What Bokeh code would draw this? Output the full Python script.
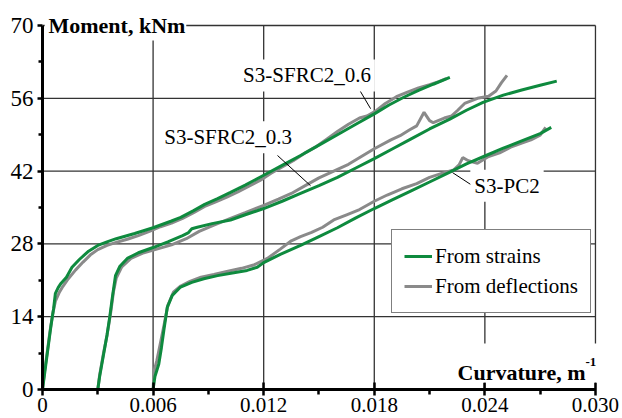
from bokeh.plotting import figure
from bokeh.models import (Range1d, FixedTicker, Label, BoxAnnotation, Legend, LegendItem)
from bokeh.embed import file_html
from bokeh.resources import INLINE

# Curvature values are given in 1e-3 1/m, moments in kNm
sfrc06_strain_k = [0, 0.15, 0.3, 0.45, 0.6, 0.7, 0.85, 1.0, 1.3, 1.6, 2.0, 2.5, 3.0, 3.5, 4.0, 5.0, 6.0, 7.0, 7.5,
                   8.2, 8.8, 9.5, 10.2, 11.0, 12.0, 13.0, 14.0, 15.0, 16.0, 17.0, 18.0, 18.8, 19.6, 20.4, 21.2, 22.1]
sfrc06_strain_m = [0, 4.0, 8.0, 12.0, 15.5, 18.5, 19.6, 20.4, 21.6, 23.5, 25.0, 26.6, 27.7, 28.4, 29.0, 30.0, 31.1,
                   32.4, 33.1, 34.4, 35.6, 36.7, 37.9, 39.3, 41.2, 43.1, 45.0, 47.0, 49.0, 51.0, 53.0, 54.7, 56.2,
                   57.5, 58.7, 60.0]

sfrc06_defl_k = [0, 0.1, 0.25, 0.4, 0.55, 0.7, 0.9, 1.1, 1.4, 1.8, 2.2, 2.6, 3.0, 3.5, 4.0, 4.6, 5.2, 5.8, 6.4, 7.0,
                 7.6, 8.2, 8.8, 9.4, 10.0, 10.6, 11.2, 11.8, 12.4, 13.0, 13.6, 14.2, 14.8, 15.4, 16.0, 16.6, 17.2,
                 17.6, 18.1, 18.6, 19.2, 19.8, 20.4, 21.0, 21.5, 21.9]
sfrc06_defl_m = [0, 3.2, 7.0, 11.0, 14.5, 17.0, 18.6, 19.8, 21.3, 23.0, 24.5, 25.9, 26.9, 27.7, 28.3, 28.9, 29.6,
                 30.4, 31.3, 32.0, 32.9, 34.0, 35.2, 36.1, 37.0, 38.0, 39.1, 40.2, 41.6, 42.8, 44.0, 45.4, 46.6,
                 48.1, 49.6, 51.0, 52.2, 52.6, 53.6, 55.0, 56.3, 57.2, 58.0, 58.6, 59.2, 59.8]

sfrc03_strain_k = [3.0, 3.1, 3.3, 3.5, 3.65, 3.8, 3.96, 4.2, 4.6, 5.2, 6.0, 6.8, 7.6, 7.9, 8.1, 8.4, 9.2, 10.2, 11.0,
                   12.0, 13.0, 14.0, 15.0, 16.0, 17.0, 18.0, 19.0, 20.0, 21.0, 22.1, 23.0, 23.9, 25.0, 26.0, 27.0,
                   27.9]
sfrc03_strain_m = [0, 2.5, 6.5, 10.5, 14.0, 18.0, 21.9, 23.7, 25.2, 26.3, 27.3, 28.4, 29.6, 30.1, 30.9, 31.2, 31.9,
                   32.6, 33.6, 34.8, 36.2, 37.7, 39.2, 40.8, 42.6, 44.4, 46.3, 48.2, 50.1, 52.0, 53.7, 55.2, 56.6,
                   57.6, 58.5, 59.3]

sfrc03_defl_k = [3.0, 3.1, 3.3, 3.5, 3.7, 3.85, 4.0, 4.3, 4.8, 5.5, 6.2, 7.0, 7.8, 8.5, 9.3, 10.2, 11.0, 12.0, 12.8,
                 13.5, 14.3, 15.0, 15.8, 16.6, 17.3, 18.0, 18.9, 19.4, 19.9, 20.3, 20.7, 21.0, 21.2, 21.8, 22.2,
                 22.5, 22.9, 23.6, 24.2, 24.6, 24.9, 25.2]
sfrc03_defl_m = [0, 2.8, 6.8, 10.4, 14.8, 18.8, 21.4, 23.6, 25.2, 26.3, 27.0, 27.8, 29.0, 30.4, 31.6, 32.9, 34.0,
                 35.4, 36.6, 37.7, 39.3, 40.7, 42.0, 43.3, 44.8, 46.3, 48.0, 48.8, 49.9, 50.7, 53.3, 51.7, 51.3,
                 52.2, 52.6, 53.6, 55.0, 56.0, 56.4, 57.4, 59.0, 60.4]

pc2_strain_k = [6.0, 6.1, 6.31, 6.45, 6.58, 6.77, 7.04, 7.49, 8.1, 8.75, 9.5, 10.3, 11.1, 11.65, 12.0, 12.9, 14.0,
                15.0, 16.0, 17.0, 18.0, 19.0, 20.0, 21.0, 22.1, 23.0, 24.0, 25.0, 26.0, 27.0, 27.6]
pc2_strain_m = [0, 2.5, 4.9, 8.0, 11.3, 15.8, 18.1, 19.7, 20.6, 21.3, 21.9, 22.4, 22.9, 23.5, 24.4, 26.0, 27.7,
                29.4, 31.1, 33.0, 34.8, 36.5, 38.2, 39.9, 41.8, 43.4, 44.9, 46.4, 47.8, 49.2, 50.4]

pc2_defl_k = [6.0, 6.05, 6.2, 6.4, 6.6, 6.8, 7.1, 7.5, 8.0, 8.6, 9.3, 10.0, 10.8, 11.5, 12.2, 12.9, 13.5, 14.0,
              14.6, 15.2, 15.8, 16.5, 17.2, 18.0, 18.7, 19.5, 20.3, 21.0, 21.7, 22.3, 22.6, 22.8, 23.1, 23.6,
              24.2, 24.8, 25.4, 26.0, 26.5, 27.0, 27.3]
pc2_defl_m = [0, 3.5, 5.5, 9.0, 12.5, 16.2, 18.7, 19.9, 20.8, 21.6, 22.1, 22.7, 23.3, 24.0, 25.2, 27.0, 28.6, 29.4,
              30.2, 31.2, 32.6, 33.6, 34.6, 36.2, 37.4, 38.6, 39.6, 40.8, 41.6, 42.2, 43.2, 44.6, 44.0, 43.5,
              44.8, 45.5, 46.6, 47.4, 48.0, 48.9, 50.4]

x_ticks = [0, 0.006, 0.012, 0.018, 0.024, 0.030]
x_tick_labels = ["0", "0.006", "0.012", "0.018", "0.024", "0.030"]
x_minor = [0.003, 0.009, 0.015, 0.021, 0.027]
y_ticks = [0, 14, 28, 42, 56, 70]
y_minor = [7, 21, 35, 49, 63]

GREEN = "#0e8a3e"
GRAY = "#8a8a8a"
GRID = "#333333"
SERIF = "Liberation Serif"

X_MAX, Y_MAX = x_ticks[-1], y_ticks[-1]


def kappa(vals):
    return [v / 1000.0 for v in vals]


# the plotting area reaches a little past the axes so titles can overhang the border
p = figure(width=622, height=418, output_backend="svg", toolbar_location=None,
           x_range=Range1d(0, 0.03049), y_range=Range1d(0, 72.88),
           min_border_left=42, min_border_right=18, min_border_top=10, min_border_bottom=29)
p.outline_line_color = None
p.background_fill_color = "white"
p.xgrid.visible = False
p.ygrid.visible = False

# axes
p.xaxis.ticker = FixedTicker(ticks=x_ticks, minor_ticks=x_minor)
p.xaxis.major_label_overrides = dict(zip(x_ticks, x_tick_labels))
p.xaxis.bounds = (0, X_MAX)
p.yaxis.ticker = FixedTicker(ticks=y_ticks, minor_ticks=y_minor)
p.yaxis.bounds = (0, Y_MAX)
for ax in (p.xaxis[0], p.yaxis[0]):
    ax.axis_line_color = "black"
    ax.axis_line_width = 3
    ax.major_tick_line_color = "black"
    ax.minor_tick_line_color = "black"
    ax.major_tick_line_width = 2.5
    ax.minor_tick_line_width = 2.5
    ax.major_label_text_font = SERIF
    ax.major_label_text_color = "black"
p.xaxis.major_tick_in = 7
p.xaxis.major_tick_out = 6
p.xaxis.minor_tick_in = 0
p.xaxis.minor_tick_out = 5
p.xaxis.major_label_text_font_size = "21px"
p.xaxis.major_label_standoff = 2
p.yaxis.major_tick_in = 0
p.yaxis.major_tick_out = 5
p.yaxis.minor_tick_in = 0
p.yaxis.minor_tick_out = 4
p.yaxis.major_label_text_font_size = "23px"
p.yaxis.major_label_standoff = 4

# grid lines, the last ones closing the box at the top and right
p.segment(x0=x_ticks[1:], y0=[0] * 5, x1=x_ticks[1:], y1=[Y_MAX] * 5, line_color=GRID, line_width=1.3)
p.segment(x0=[0] * 5, y0=y_ticks[1:], x1=[X_MAX] * 5, y1=y_ticks[1:], line_color=GRID, line_width=1.3)

# curves: deflection-based underneath, strain-based on top
defl = [(sfrc06_defl_k, sfrc06_defl_m), (sfrc03_defl_k, sfrc03_defl_m), (pc2_defl_k, pc2_defl_m)]
strain = [(sfrc06_strain_k, sfrc06_strain_m), (sfrc03_strain_k, sfrc03_strain_m), (pc2_strain_k, pc2_strain_m)]
defl_r = [p.line(kappa(k), m, line_color=GRAY, line_width=3) for k, m in defl]
strain_r = [p.line(kappa(k), m, line_color=GREEN, line_width=3) for k, m in strain]

# leader lines from curve names to curves
p.segment(x0=[0.01715, 0.01275, 0.02225], y0=[57.9, 45.0, 41.7],
          x1=[0.0178, 0.01454, 0.0235], y1=[54.0, 39.2, 38.8],
          line_color="black", line_width=1)

# white boxes behind axis titles
p.add_layout(BoxAnnotation(left=0.00012, right=0.0078, bottom=67.1, top=72.9,
                           fill_color="white", fill_alpha=1, line_color=None))
p.add_layout(BoxAnnotation(left=0.0226, right=0.0305, bottom=1.35, top=8.85,
                           fill_color="white", fill_alpha=1, line_color=None))

p.add_layout(Label(x=0, y=Y_MAX, x_offset=6, text="Moment, kNm", text_font=SERIF, text_font_size="22px",
                   text_font_style="bold", text_align="left", text_baseline="middle", text_color="black"))
p.add_layout(Label(x=X_MAX, y=3.27, x_offset=-10, text="Curvature, m", text_font=SERIF, text_font_size="22px",
                   text_font_style="bold", text_align="right", text_baseline="alphabetic", text_color="black"))
p.add_layout(Label(x=X_MAX, y=5.2, x_offset=-10, text="-1", text_font=SERIF, text_font_size="13px",
                   text_font_style="bold", text_align="left", text_baseline="alphabetic", text_color="black"))

for lx, ly, txt in [(0.01435, 60.4, "S3-SFRC2_0.6"), (0.01007, 48.5, "S3-SFRC2_0.3"), (0.0252, 39.2, "S3-PC2")]:
    p.add_layout(Label(x=lx, y=ly, text=txt, text_font=SERIF, text_font_size="21px", text_align="center",
                       text_baseline="middle", text_color="black", background_fill_color="white",
                       background_fill_alpha=1, padding=4))

legend = Legend(items=[LegendItem(label="From strains", renderers=[strain_r[0]]),
                       LegendItem(label="From deflections", renderers=[defl_r[0]])],
                location=(349, 76))
legend.label_text_font = SERIF
legend.label_text_font_size = "21px"
legend.label_text_color = "black"
legend.glyph_width = 28
legend.glyph_height = 28
legend.label_height = 28
legend.label_standoff = 3
legend.padding = 12
legend.spacing = 2
legend.margin = 0
legend.border_line_color = "black"
legend.border_line_width = 1
legend.background_fill_color = "white"
legend.background_fill_alpha = 1
p.add_layout(legend)

open("out.html", "w").write(file_html(p, INLINE))
